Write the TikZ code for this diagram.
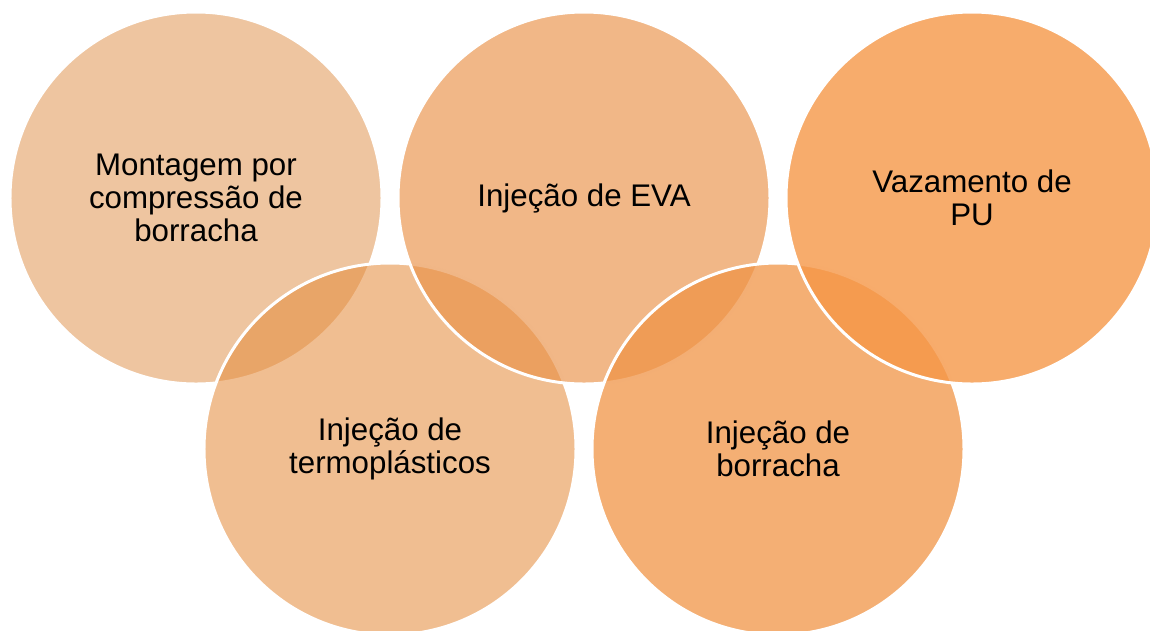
\documentclass[tikz,border=0pt]{standalone}
\usepackage{fontspec}
\setmainfont{Liberation Sans}
\definecolor{toneA}{RGB}{221,139,65}
\definecolor{toneB}{RGB}{229,141,62}
\definecolor{toneC}{RGB}{233,144,70}
\definecolor{toneD}{RGB}{240,148,70}
\definecolor{toneE}{RGB}{245,151,71}
\tikzset{
  blob/.style={circle, minimum size=7.44cm, inner sep=0pt,
    draw=white, line width=1.7pt, text opacity=1, align=center,
    font=\fontsize{17.8}{18.6}\selectfont},
}
\begin{document}
\begin{tikzpicture}
  \useasboundingbox (0, 0) rectangle (23, -12.6);
  \clip (0, 0) rectangle (23, -12.6);
  \node [blob, fill=toneA, fill opacity=0.5] (montagem) at (3.92, -3.96) {Montagem por\\compressão de\\borracha};
  \node [blob, fill=toneB, fill opacity=0.57] (termo) at (7.8, -8.98) {Injeção de\\termoplásticos};
  \node [blob, fill=toneC, fill opacity=0.65] (eva) at (11.68, -3.96) {Injeção de EVA};
  \node [blob, fill=toneD, fill opacity=0.75] (borracha) at (15.56, -8.98) {Injeção de\\borracha};
  \node [blob, fill=toneE, fill opacity=0.8] (pu) at (19.44, -3.96) {Vazamento de\\PU};
\end{tikzpicture}
\end{document}
